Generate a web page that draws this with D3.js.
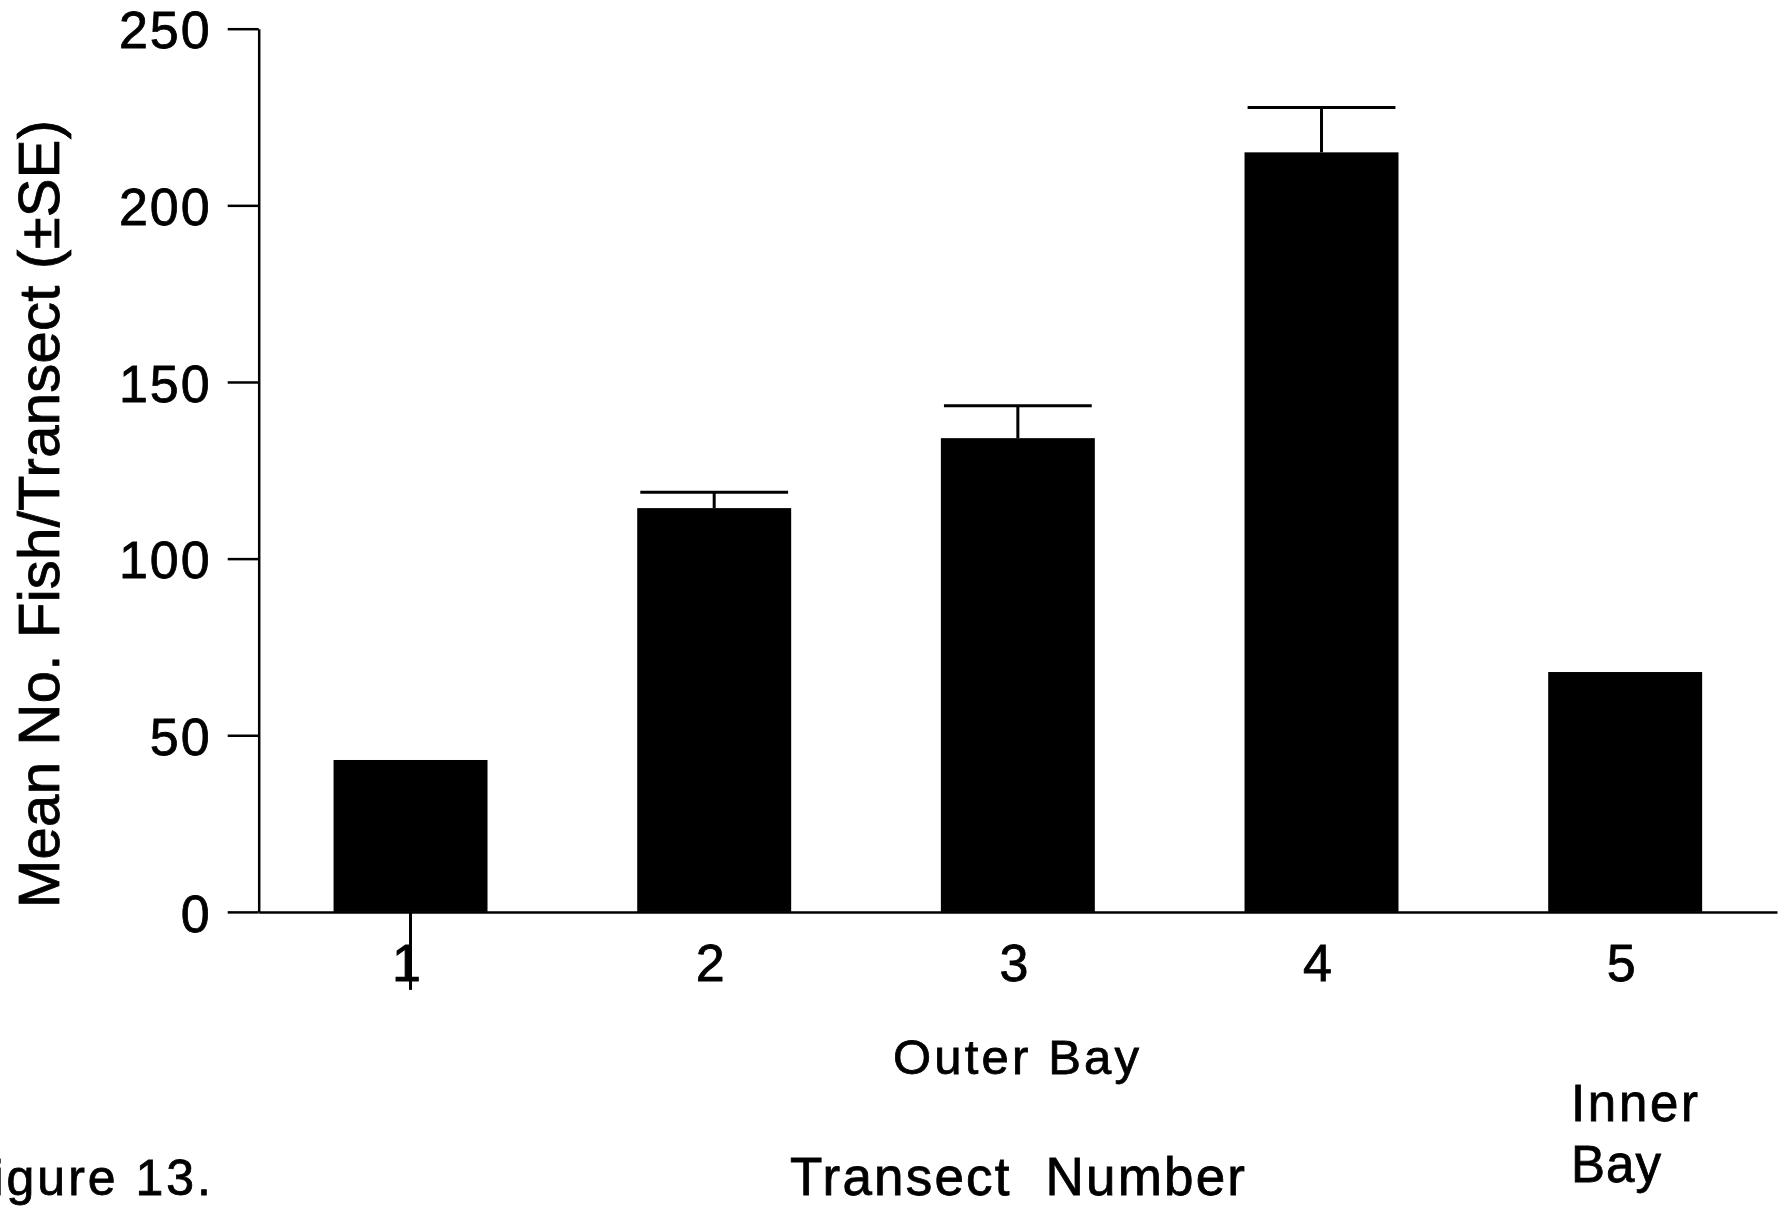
<!DOCTYPE html>
<html>
<head>
<meta charset="utf-8">
<script src="https://cdn.jsdelivr.net/npm/d3@7"></script>
<style>
  html, body { margin: 0; padding: 0; background: #fff; }
  svg { display: block; }
  text { font-family: "Liberation Sans", Arial, Helvetica, sans-serif; fill: #000; stroke: #000; stroke-width: 0.8px; }
</style>
</head>
<body>
<svg id="chart" width="1786" height="1208"></svg>
<script>
// ---- data ----
const categories = ["1", "2", "3", "4", "5"];
const means = [43.0, 114.3, 134.1, 215.0, 67.9];
const stdErrors = [null, 4.5, 9.2, 12.7, null];
const yTickValues = [0, 50, 100, 150, 200, 250];
const yTitle = "Mean No. Fish/Transect (\u00B1SE)";
const xTitle = "Transect  Number";
const groupOuter = "Outer Bay";
const groupInner = ["Inner", "Bay"];
const figureLabel = "Figure 13.";

// ---- layout ----
const plot = { left: 258.7, right: 1777, top: 28.7, bottom: 911.9 };

const svg = d3.select("#chart");

const y = d3.scaleLinear().domain([0, 250]).range([plot.bottom, plot.top]);
const x = d3.scaleBand().domain(categories).range([plot.left, plot.right])
  .paddingInner(0.493).paddingOuter(0.2465);

const data = categories.map((c, i) => ({ cat: c, mean: means[i], se: stdErrors[i] }));

// bars
svg.append("g").selectAll("rect").data(data).join("rect")
  .attr("x", d => x(d.cat))
  .attr("width", x.bandwidth())
  .attr("y", d => y(d.mean))
  .attr("height", d => y(0) - y(d.mean))
  .attr("fill", "#000");

// error bars (upper only)
const eb = svg.append("g").attr("stroke", "#000").attr("stroke-width", 3);
data.filter(d => d.se != null).forEach(d => {
  const cx = x(d.cat) + x.bandwidth() / 2;
  const half = x.bandwidth() * 0.48;
  eb.append("line").attr("x1", cx).attr("x2", cx)
    .attr("y1", y(d.mean)).attr("y2", y(d.mean + d.se));
  eb.append("line").attr("x1", cx - half).attr("x2", cx + half)
    .attr("y1", y(d.mean + d.se)).attr("y2", y(d.mean + d.se));
});

// y axis
const yAxis = svg.append("g")
  .attr("transform", `translate(${plot.left},0)`)
  .call(d3.axisLeft(y).tickValues(yTickValues).tickSize(31).tickSizeOuter(0).tickPadding(16));
yAxis.selectAll("path, line").attr("stroke", "#000").attr("stroke-width", 2.5);
yAxis.selectAll("text")
  .style("font-size", "52px")
  .style("letter-spacing", "2px")
  .attr("dy", "0.37em");

// x axis
const xAxis = svg.append("g")
  .attr("transform", `translate(0,${plot.bottom})`)
  .call(d3.axisBottom(x).tickSize(0).tickSizeOuter(0).tickPadding(32));
xAxis.select(".domain").attr("stroke", "#000").attr("stroke-width", 2.5);
xAxis.selectAll("text")
  .style("font-size", "52px")
  .attr("dx", "-4");

// stray tick below first category
svg.append("line")
  .attr("x1", x(categories[0]) + x.bandwidth() / 2)
  .attr("x2", x(categories[0]) + x.bandwidth() / 2)
  .attr("y1", plot.bottom).attr("y2", plot.bottom + 78)
  .attr("stroke", "#000").attr("stroke-width", 3);

// y title
svg.append("text")
  .attr("transform", "translate(59,908) rotate(-90)")
  .attr("text-anchor", "start")
  .attr("textLength", 788)
  .attr("lengthAdjust", "spacing")
  .style("font-size", "58px")
  .text(yTitle);

// group labels
svg.append("text")
  .attr("x", 893).attr("y", 1074)
  .attr("textLength", 246).attr("lengthAdjust", "spacing")
  .style("font-size", "49px")
  .text(groupOuter);

svg.append("text")
  .attr("x", 1571).attr("y", 1121)
  .attr("textLength", 127).attr("lengthAdjust", "spacing")
  .style("font-size", "51px")
  .text(groupInner[0]);
svg.append("text")
  .attr("x", 1571).attr("y", 1182)
  .style("font-size", "51px")
  .style("letter-spacing", "1px")
  .text(groupInner[1]);

// x title
svg.append("text")
  .attr("x", 790).attr("y", 1195)
  .attr("textLength", 455).attr("lengthAdjust", "spacing")
  .attr("xml:space", "preserve")
  .style("white-space", "pre")
  .style("font-size", "53px")
  .text(xTitle);

// figure label (partially cut off on the left, as in the source)
svg.append("text")
  .attr("x", 214).attr("y", 1195)
  .attr("text-anchor", "end")
  .style("font-size", "50px")
  .style("letter-spacing", "3px")
  .text(figureLabel);
</script>
</body>
</html>
